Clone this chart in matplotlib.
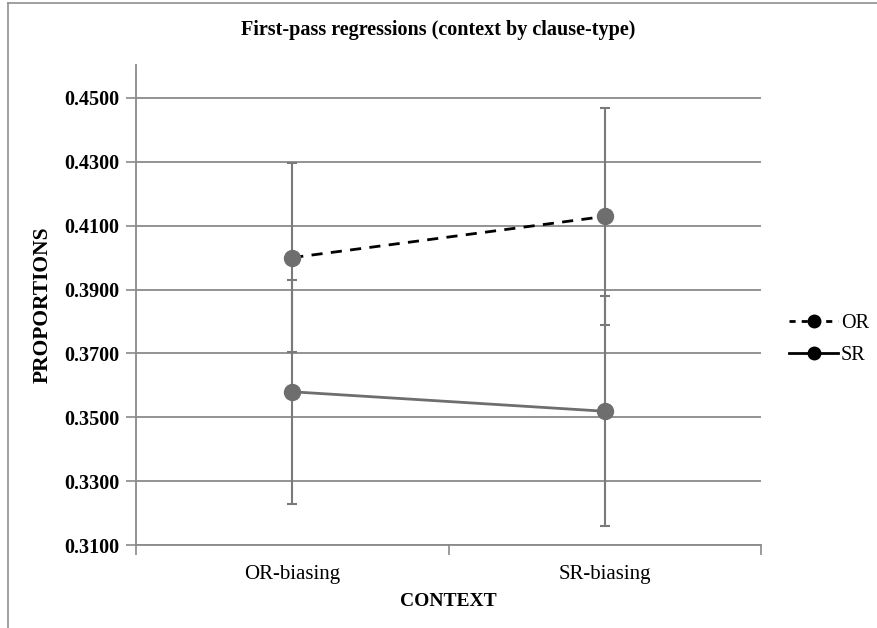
import matplotlib

matplotlib.use("Agg")
import matplotlib.pyplot as plt
from matplotlib.lines import Line2D
from matplotlib.ticker import FormatStrFormatter, FixedLocator

# data
contexts = ["OR-biasing", "SR-biasing"]
or_means = [0.4000, 0.4129]
or_errors = [0.0296, 0.0340]
sr_means = [0.3580, 0.3519]
sr_errors = [0.0350, 0.0360]
y_ticks = [0.31, 0.33, 0.35, 0.37, 0.39, 0.41, 0.43, 0.45]

plt.rcParams["font.family"] = ["Liberation Serif", "DejaVu Serif"]

GRAY = "#6e6e6e"
GRID = "#8a8a8a"

fig = plt.figure(figsize=(8.77, 6.28), dpi=100)
ax = fig.add_axes([0.155, 0.132, 0.713, 0.7645])

x = list(range(1, len(contexts) + 1))

ax.errorbar(x, or_means, yerr=or_errors, fmt="none", ecolor="#7a7a7a",
            elinewidth=1.5, capsize=3.5, capthick=1.5, zorder=3)
ax.errorbar(x, sr_means, yerr=sr_errors, fmt="none", ecolor="#7a7a7a",
            elinewidth=1.5, capsize=3.5, capthick=1.5, zorder=3)

ax.plot(x, or_means, color="black", linestyle=(0, (4, 3)), linewidth=2.0, zorder=4)
ax.plot(x, sr_means, color=GRAY, linestyle="-", linewidth=2.0, zorder=4)
ax.plot(x, or_means, linestyle="none", marker="o", markersize=11.5,
        color=GRAY, zorder=5)
ax.plot(x, sr_means, linestyle="none", marker="o", markersize=11.5,
        color=GRAY, zorder=5)

ax.set_xlim(0.5, len(contexts) + 0.5)
ax.set_ylim(0.31, 0.4603)
ax.set_yticks(y_ticks)
ax.yaxis.set_major_formatter(FormatStrFormatter("%.4f"))
ax.set_xticks(x)
ax.set_xticklabels(contexts, fontsize=15)
ax.xaxis.set_minor_locator(FixedLocator([0.5 + i for i in range(len(contexts) + 1)]))
ax.tick_params(axis="x", which="major", length=0, pad=14)
ax.tick_params(axis="x", which="minor", length=7, width=1.2, color=GRID)
ax.tick_params(axis="y", length=7, width=1.2, color=GRID, labelsize=14.5, pad=5)
for lab in ax.get_yticklabels():
    lab.set_fontweight("bold")

ax.grid(axis="y", color=GRID, linewidth=1.3)
ax.set_axisbelow(True)
for side in ("top", "right"):
    ax.spines[side].set_visible(False)
for side in ("left", "bottom"):
    ax.spines[side].set_color(GRID)
    ax.spines[side].set_linewidth(1.3)

ax.set_xlabel("CONTEXT", fontsize=14, fontweight="bold", labelpad=7)
ax.set_ylabel("PROPORTIONS", fontsize=15.5, fontweight="bold", labelpad=8)
fig.text(0.5, 0.952, "First-pass regressions (context by clause-type)",
         ha="center", va="center", fontsize=14.5, fontweight="bold")

handles = [
    Line2D([], [], color="black", linestyle=(0, (2.2, 2.2)), linewidth=2.0,
           marker="o", markersize=9, markerfacecolor="black"),
    Line2D([], [], color="black", linestyle="-", linewidth=2.0,
           marker="o", markersize=9, markerfacecolor="black"),
]
fig.legend(handles, ["OR", "SR"], loc="center left",
           bbox_to_anchor=(0.891, 0.46), frameon=False, fontsize=14.5,
           handlelength=2.4, handletextpad=0.15, labelspacing=0.65,
           borderaxespad=0)

# scanned frame edges
fig.add_artist(Line2D([8 / 877, 8 / 877], [0, 1 - 3 / 628], color="#909090",
                      linewidth=1.2, transform=fig.transFigure))
fig.add_artist(Line2D([8 / 877, 1], [1 - 3 / 628, 1 - 3 / 628], color="#909090",
                      linewidth=1.2, transform=fig.transFigure))

fig.savefig("out.png", dpi=100)
